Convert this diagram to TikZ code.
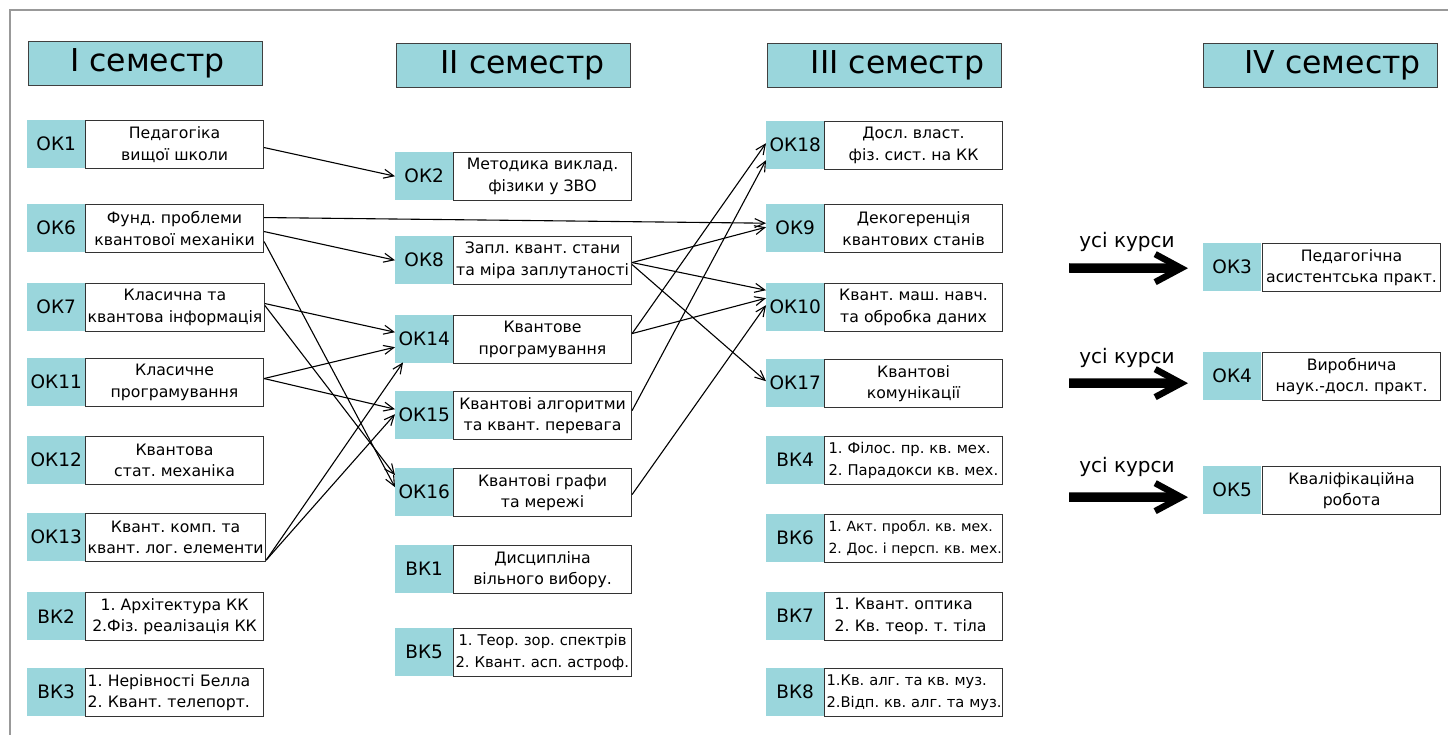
\documentclass[tikz,border=0pt]{standalone}
\usepackage{fontspec}
\setmainfont{DejaVu Sans}
\usetikzlibrary{arrows.meta,calc}
\definecolor{tealc}{RGB}{154,214,220}
\begin{document}
\frenchspacing
\begin{tikzpicture}[x=1pt,y=-1pt,
 lab/.style={fill=tealc, draw=none, minimum width=58pt, minimum height=48pt, inner sep=0pt, font=\fontsize{18.5}{20}\selectfont, anchor=north west},
 txt/.style={fill=white, draw=black!80, line width=1.1pt, minimum width=178pt, minimum height=48pt, inner sep=2pt, align=center, font=\fontsize{15.7}{21.5}\selectfont\frenchspacing, anchor=north west},
 txtl/.style={txt, text width=174pt, align=left},
 sm/.style={font=\fontsize{#1}{21.5}\selectfont\frenchspacing},
 hdr/.style={fill=tealc, draw=black!75, line width=1.2pt, minimum width=234pt, minimum height=44pt, inner sep=0pt, font=\fontsize{31.5}{34}\selectfont, anchor=north west},
 conn/.style={line width=1.1pt, -{Straight Barb[length=10pt,width=9pt]}},
 big/.style={line width=9.5pt, -{Straight Barb[length=26pt,width=28pt,line width=6.5pt]}},
 note/.style={font=\fontsize{20}{22}\selectfont, inner sep=0pt}]
\useasboundingbox (0,0) rectangle (1448,735);
\clip (0,0) rectangle (1448,735);
\draw[black!40, line width=2pt] (10,10) rectangle (1480,770);

% headers
\node[hdr] (h1) at (28,41) {\hspace*{4pt}I семестр};
\node[hdr] (h2) at (396,43) {\hspace*{18pt}II семестр};
\node[hdr] (h3) at (767,43) {\hspace*{26pt}III семестр};
\node[hdr] (h4) at (1203,43) {\hspace*{24pt}IV семестр};

% column 1
\node[lab] (ok1) at (27,120) {ОК1};   \node[txt] (ok1t) at (85,120) {Педагогіка\\вищої школи};
\node[lab] (ok6) at (27,204) {ОК6};   \node[txt] (ok6t) at (85,204) {Фунд. проблеми\\квантової механіки};
\node[lab] (ok7) at (27,283) {ОК7};   \node[txt] (ok7t) at (85,283) {Класична та\\квантова інформація};
\node[lab] (ok11) at (27,358) {ОК11}; \node[txt] (ok11t) at (85,358) {Класичне\\програмування};
\node[lab] (ok12) at (27,436) {ОК12}; \node[txt] (ok12t) at (85,436) {Квантова\\стат. механіка};
\node[lab] (ok13) at (27,513) {ОК13}; \node[txt] (ok13t) at (85,513) {Квант. комп. та\\квант. лог. елементи};
\node[lab] (bk2) at (27,592) {ВК2};   \node[txt] (bk2t) at (85,592) {1. Архітектура КК\\2.Фіз. реалізація КК};
\node[lab] (bk3) at (27,668) {ВК3};   \node[txtl] (bk3t) at (85,668) {\mbox{1. Нерівності Белла}\\\mbox{2. Квант. телепорт.}};

% column 2
\node[lab] (ok2) at (395,152) {ОК2};   \node[txt] (ok2t) at (453,152) {Методика виклад.\\фізики у ЗВО};
\node[lab] (ok8) at (395,236) {ОК8};   \node[txt] (ok8t) at (453,236) {Запл. квант. стани\\та міра заплутаності};
\node[lab] (ok14) at (395,315) {ОК14}; \node[txt] (ok14t) at (453,315) {Квантове\\програмування};
\node[lab] (ok15) at (395,391) {ОК15}; \node[txt] (ok15t) at (453,391) {Квантові алгоритми\\та квант. перевага};
\node[lab] (ok16) at (395,468) {ОК16}; \node[txt] (ok16t) at (453,468) {Квантові графи\\та мережі};
\node[lab] (bk1) at (395,545) {ВК1};   \node[txt] (bk1t) at (453,545) {Дисципліна\\вільного вибору.};
\node[lab] (bk5) at (395,628) {ВК5};   \node[txtl, sm=14.8] (bk5t) at (453,628) {\mbox{\hspace*{3pt}1. Теор. зор. спектрів}\\\mbox{2. Квант. асп. астроф.}};

% column 3
\node[lab] (ok18) at (766,121) {ОК18}; \node[txt] (ok18t) at (824,121) {Досл. власт.\\фіз. сист. на КК};
\node[lab] (ok9) at (766,204) {ОК9};   \node[txt] (ok9t) at (824,204) {Декогеренція\\квантових станів};
\node[lab] (ok10) at (766,283) {ОК10}; \node[txt] (ok10t) at (824,283) {Квант. маш. навч.\\та обробка даних};
\node[lab] (ok17) at (766,359) {ОК17}; \node[txt] (ok17t) at (824,359) {Квантові\\комунікації};
\node[lab] (bk4) at (766,436) {ВК4};   \node[txtl, sm=14.8] (bk4t) at (824,436) {\mbox{\hspace*{2pt}1. Філос. пр. кв. мех.}\\\mbox{\hspace*{2pt}2. Парадокси кв. мех.}};
\node[lab] (bk6) at (766,514) {ВК6};   \node[txtl, sm=14] (bk6t) at (824,514) {\mbox{\hspace*{2pt}1. Акт. пробл. кв. мех.}\\\mbox{\hspace*{2pt}2. Дос. і персп. кв. мех.}};
\node[lab] (bk7) at (766,592) {ВК7};   \node[txtl] (bk7t) at (824,592) {\mbox{\hspace*{8pt}1. Квант. оптика}\\\mbox{\hspace*{8pt}2. Кв. теор. т. тіла}};
\node[lab] (bk8) at (766,668) {ВК8};   \node[txtl, sm=14.7] (bk8t) at (824,668) {\mbox{1.Кв. алг. та кв. муз.}\\\mbox{2.Відп. кв. алг. та муз.}};

% column 4
\node[lab] (ok3) at (1203,243) {ОК3}; \node[txt] (ok3t) at (1262,243) {Педагогічна\\асистентська практ.};
\node[lab] (ok4) at (1203,352) {ОК4}; \node[txt] (ok4t) at (1262,352) {Виробнича\\наук.-досл. практ.};
\node[lab] (ok5) at (1203,466) {ОК5}; \node[txt] (ok5t) at (1262,466) {Кваліфікаційна\\робота};

% connectors column 1 -> 2 (and 3)
\draw[conn] ($(ok1t.east)+(0,3)$) -- (ok2.west);
\draw[conn] ($(ok6t.east)+(0,-11)$) -- ($(ok9.west)+(0,-5)$);
\draw[conn] ($(ok6t.east)+(0,3)$) -- (ok8.west);
\draw[conn] ($(ok6t.east)+(0,13)$) -- ($(ok16.west)+(0,-5)$);
\draw[conn] ($(ok7t.east)+(0,-4)$) -- ($(ok14.west)+(0,-7)$);
\draw[conn] ($(ok7t.east)+(0,-2)$) -- ($(ok16.west)+(0,-17)$);
\draw[conn] ($(ok11t.east)+(0,-4)$) -- ($(ok14.west)+(0,8)$);
\draw[conn] ($(ok11t.east)+(0,-4)$) -- ($(ok15.west)+(0,-6)$);
\draw[conn] ($(ok13t.south east)+(0,-2)$) -- ($(ok14.south west)+(8,-1)$);
\draw[conn] ($(ok13t.south east)+(0,-2)$) -- ($(ok15.west)+(0,-1)$);

% connectors column 2 -> 3
\draw[conn] ($(ok8t.east)+(0,2)$) -- ($(ok9.west)+(0,-1)$);
\draw[conn] ($(ok8t.east)+(0,2)$) -- ($(ok10.west)+(0,-17)$);
\draw[conn] ($(ok8t.east)+(0,4)$) -- ($(ok17.west)+(0,-2)$);
\draw[conn] ($(ok14t.east)+(0,-6)$) -- ($(ok18.west)+(0,-2)$);
\draw[conn] ($(ok14t.east)+(0,-6)$) -- ($(ok10.west)+(0,-9)$);
\draw[conn] ($(ok15t.east)+(0,-5)$) -- ($(ok18.west)+(0,15)$);
\draw[conn] ($(ok16t.east)+(0,2)$) -- ($(ok10.west)+(0,-2)$);

% all-courses arrows
\coordinate (s3) at (1069,268);
\coordinate (s4) at (1069,383);
\coordinate (s5) at (1069,497);
\draw[big] (s3) -- ($(ok3.west)+(-15,1)$);
\draw[big] (s4) -- ($(ok4.west)+(-15,7)$);
\draw[big] (s5) -- ($(ok5.west)+(-15,7)$);
\node[note] (n3) at (1127,242) {усі курси};
\node[note] (n4) at (1127,358) {усі курси};
\node[note] (n5) at (1127,467) {усі курси};
\end{tikzpicture}
\end{document}
